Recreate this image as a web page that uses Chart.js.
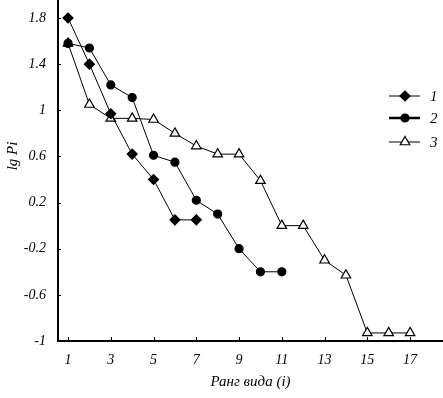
<!DOCTYPE html>
<html>
<head>
<meta charset="utf-8">
<script src="https://cdn.jsdelivr.net/npm/chart.js@4.4.1/dist/chart.umd.min.js"></script>
<style>
  html, body { margin: 0; padding: 0; background: #fff; }
  #wrap { width: 443px; height: 398px; }
</style>
</head>
<body>
<div id="wrap"><canvas id="chart_rank"></canvas></div>
<script>
// ранги видов и lg Pi для трёх сообществ
var rank1 = [1, 2, 3, 4, 5, 6, 7];
var lgP1 = [1.8, 1.4, 0.97, 0.62, 0.4, 0.05, 0.05];
var rank2 = [1, 2, 3, 4, 5, 6, 7, 8, 9, 10, 11];
var lgP2 = [1.58, 1.54, 1.22, 1.11, 0.61, 0.55, 0.22, 0.1, -0.2, -0.4, -0.4];
var rank3 = [1, 2, 3, 4, 5, 6, 7, 8, 9, 10, 11, 12, 13, 14, 15, 16, 17];
var lgP3 = [1.58, 1.05, 0.93, 0.93, 0.92, 0.8, 0.69, 0.62, 0.62, 0.39, 0.0, 0.0, -0.3, -0.43, -0.93, -0.93, -0.93];
var seriesNames = ['1', '2', '3'];
var xTicks = [1, 3, 5, 7, 9, 11, 13, 15, 17];
var yTicks = [-1, -0.6, -0.2, 0.2, 0.6, 1, 1.4, 1.8];
var yTitle = 'lg Pi';

function toPts(xs, ys) {
	var out = [];
	for (var i in xs) out.push({x: xs[i], y: ys[i]});
	return out;
}

var serif = '"Liberation Serif", "DejaVu Serif", serif';

// маленькие засечки внутрь области графика + подпись оси Y
var innerTicks = {
	id: 'innerTicks',
	afterDraw: function(chart) {
		var ctx = chart.ctx, xs = chart.scales.x, ys = chart.scales.y, a = chart.chartArea;
		ctx.save();
		ctx.strokeStyle = '#000';
		ctx.lineWidth = 1;
		ctx.beginPath();
		xTicks.forEach(function(v) {
			var px = Math.round(xs.getPixelForValue(v)) + 0.5;
			ctx.moveTo(px, a.bottom);
			ctx.lineTo(px, a.bottom - 4);
		});
		yTicks.forEach(function(v) {
			var py = Math.round(ys.getPixelForValue(v)) + 0.5;
			ctx.moveTo(a.left, py);
			ctx.lineTo(a.left + 3, py);
		});
		ctx.stroke();

		ctx.translate(13, 156);
		ctx.rotate(-Math.PI / 2);
		ctx.fillStyle = '#000';
		ctx.font = 'italic 15px ' + serif;
		ctx.textAlign = 'center';
		ctx.textBaseline = 'middle';
		ctx.fillText(yTitle, 0, 0);
		ctx.restore();
	}
};

// легенда: отрезок линии с маркером
var lineLegend = {
	id: 'lineLegend',
	afterDraw: function(chart) {
		var ctx = chart.ctx;
		var rows = [96, 118, 142];
		var widths = [1, 2.5, 1];
		ctx.save();
		chart.data.datasets.forEach(function(ds, i) {
			var y = rows[i];
			ctx.strokeStyle = '#000';
			ctx.lineWidth = widths[i];
			ctx.beginPath();
			ctx.moveTo(389, y);
			ctx.lineTo(420, y);
			ctx.stroke();
			ctx.fillStyle = ds.pointBackgroundColor;
			ctx.lineWidth = ds.pointBorderWidth;
			Chart.helpers.drawPoint(ctx, {
				pointStyle: ds.pointStyle,
				radius: ds.pointRadius,
				borderWidth: ds.pointBorderWidth,
				rotation: 0
			}, 405, y);
			ctx.fillStyle = '#000';
			ctx.font = 'italic 15px ' + serif;
			ctx.textAlign = 'left';
			ctx.textBaseline = 'middle';
			ctx.fillText(seriesNames[i], 430, y + 1);
		});
		ctx.restore();
	}
};

function mkSet(label, xs, ys, style, r, fill) {
	return {
		label: label,
		data: toPts(xs, ys),
		borderColor: '#000',
		borderWidth: 1,
		pointStyle: style,
		pointRadius: r,
		pointHoverRadius: r,
		pointBackgroundColor: fill,
		pointBorderColor: '#000',
		pointBorderWidth: 1.2,
		clip: false,
		tension: 0
	};
}

var configRank = {
	type: 'line',
	data: {
		datasets: [
			mkSet(seriesNames[0], rank1, lgP1, 'rectRot', 5, '#000'),
			mkSet(seriesNames[1], rank2, lgP2, 'circle', 4, '#000'),
			mkSet(seriesNames[2], rank3, lgP3, 'triangle', 5.5, '#fff')
		]
	},
	options: {
		responsive: true,
		maintainAspectRatio: false,
		animation: false,
		layout: { padding: 0, autoPadding: false },
		plugins: {
			legend: { display: false },
			tooltip: { enabled: false }
		},
		scales: {
			x: {
				type: 'linear',
				min: 0.53,
				max: 18.54,
				afterBuildTicks: function(s) { s.ticks = xTicks.map(function(v) { return {value: v}; }); },
				afterFit: function(s) { s.height = 57; s.paddingLeft = 0; s.paddingRight = 0; },
				grid: { display: false, drawTicks: false },
				border: { display: true, color: '#000', width: 2 },
				ticks: {
					color: '#000',
					padding: 11,
					maxRotation: 0,
					autoSkip: false,
					font: { family: serif, style: 'italic', size: 14 },
					callback: function(v) { return String(v); }
				},
				title: {
					display: true,
					text: 'Ранг вида (i)',
					color: '#000',
					padding: { top: 0, bottom: 7 },
					font: { family: serif, style: 'italic', size: 15 }
				}
			},
			y: {
				type: 'linear',
				min: -1,
				max: 1.956,
				afterBuildTicks: function(s) { s.ticks = yTicks.map(function(v) { return {value: v}; }); },
				afterFit: function(s) { s.width = 58; s.paddingTop = 0; s.paddingBottom = 0; },
				grid: { display: false, drawTicks: false },
				border: { display: true, color: '#000', width: 2 },
				ticks: {
					color: '#000',
					padding: 12,
					autoSkip: false,
					font: { family: serif, style: 'italic', size: 14 },
					callback: function(v) { return String(Math.round(v * 10) / 10); }
				}
			}
		}
	},
	plugins: [innerTicks, lineLegend]
};

var ctx_rank = document.getElementById('chart_rank').getContext('2d');
new Chart(ctx_rank, configRank);
</script>
</body>
</html>
